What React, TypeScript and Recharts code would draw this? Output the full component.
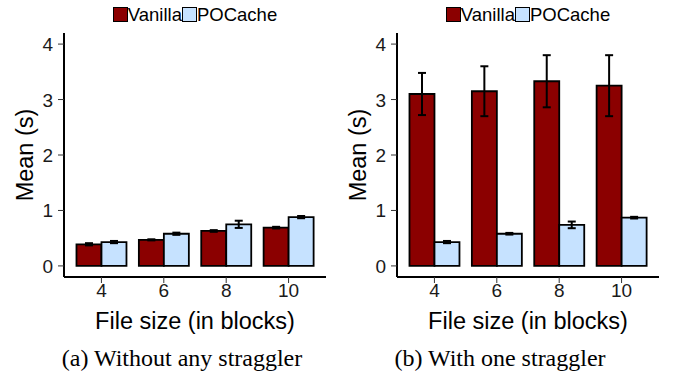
import React from 'react';
import { BarChart, Bar, XAxis, YAxis, ErrorBar } from 'recharts';

const categories = ['4', '6', '8', '10'];
const vanillaNoStraggler = [0.39, 0.47, 0.63, 0.69];
const vanillaNoStragglerErr = [0.02, 0.01, 0.015, 0.015];
const pocacheNoStraggler = [0.43, 0.58, 0.75, 0.88];
const pocacheNoStragglerErr = [0.02, 0.02, 0.065, 0.02];
const vanillaOneStraggler = [3.1, 3.15, 3.33, 3.25];
const vanillaOneStragglerErr = [0.38, 0.45, 0.47, 0.55];
const pocacheOneStraggler = [0.43, 0.58, 0.74, 0.87];
const pocacheOneStragglerErr = [0.02, 0.015, 0.06, 0.015];
const yTicks = [0, 1, 2, 3, 4];
const yDomain: [number, number] = [-0.2, 4.2];
const seriesNames = ['Vanilla', 'POCache'];
const seriesColors = ['#8B0000', '#C6E2FF'];
const captions = ['(a) Without any straggler', '(b) With one straggler'];
const yTitle = 'Mean (s)';
const xTitle = 'File size (in blocks)';

const SANS = "'Liberation Sans', Arial, Helvetica, sans-serif";
const SERIF = "'Liberation Serif', 'Times New Roman', serif";
const TICK_SIZE = 19;

function buildData(v: number[], ve: number[], p: number[], pe: number[]) {
  return categories.map((c, i) => ({
    cat: c,
    vanilla: v[i],
    vanillaErr: ve[i],
    pocache: p[i],
    pocacheErr: pe[i],
  }));
}

const dataA = buildData(vanillaNoStraggler, vanillaNoStragglerErr, pocacheNoStraggler, pocacheNoStragglerErr);
const dataB = buildData(vanillaOneStraggler, vanillaOneStragglerErr, pocacheOneStraggler, pocacheOneStragglerErr);

const XTick = (props: any) => {
  const { x, y, payload } = props;
  return (
    <text x={x} y={y + 14} textAnchor="middle" fontFamily={SANS} fontSize={TICK_SIZE} fill="#1a1a1a">
      {payload.value}
    </text>
  );
};

const YTick = (props: any) => {
  const { x, y, payload } = props;
  return (
    <text x={x} y={y + 7} textAnchor="end" fontFamily={SANS} fontSize={TICK_SIZE} fill="#1a1a1a">
      {payload.value}
    </text>
  );
};

const YTitle = (props: any) => {
  const vb = props.viewBox || { x: 0, y: 0, width: 0, height: 0 };
  const cx = vb.x + 11;
  const cy = vb.y + vb.height / 2;
  return (
    <text
      x={cx}
      y={cy}
      transform={`rotate(-90 ${cx} ${cy})`}
      textAnchor="middle"
      dominantBaseline="central"
      fontFamily={SANS}
      fontSize={23.5}
      fill="#000"
    >
      {yTitle}
    </text>
  );
};

const XTitle = (props: any) => {
  const vb = props.viewBox || { x: 0, y: 0, width: 0, height: 0 };
  return (
    <text
      x={vb.x + vb.width / 2}
      y={vb.y + 52}
      textAnchor="middle"
      fontFamily={SANS}
      fontSize={23.5}
      fill="#000"
    >
      {xTitle}
    </text>
  );
};

function LegendRow() {
  return (
    <div
      style={{
        position: 'absolute',
        left: 64,
        width: 262,
        top: 4,
        height: 21,
        display: 'flex',
        justifyContent: 'center',
        alignItems: 'center',
        fontFamily: SANS,
        fontSize: 18.5,
        lineHeight: '21px',
        color: '#000',
      }}
    >
      {seriesNames.map((name, i) => (
        <React.Fragment key={name}>
          <span
            style={{
              display: 'inline-block',
              width: 15,
              height: 15,
              boxSizing: 'border-box',
              border: '1.5px solid #000',
              background: seriesColors[i],
            }}
          />
          <span>{name}</span>
        </React.Fragment>
      ))}
    </div>
  );
}

function Panel({ data, left, caption, captionCenter }: any) {
  return (
    <div style={{ position: 'absolute', left, top: 0, width: 340, height: 379 }}>
      <LegendRow />
      <BarChart
        width={340}
        height={340}
        data={data}
        margin={{ top: 33, right: 14, bottom: 0, left: 14 }}
        barCategoryGap="10%"
        barGap={0}
      >
        <XAxis
          dataKey="cat"
          padding={{ left: 6.24, right: 6.24 }}
          tickSize={6}
          tickMargin={0}
          height={63}
          tick={<XTick />}
          tickLine={{ stroke: '#333', strokeWidth: 1 }}
          axisLine={{ stroke: '#000', strokeWidth: 2 }}
          label={<XTitle />}
        />
        <XAxis
          xAxisId="top"
          dataKey="cat"
          orientation="top"
          height={0}
          tick={false}
          tickLine={false}
          axisLine={{ stroke: '#333', strokeWidth: 1 }}
        />
        <YAxis
          domain={yDomain}
          ticks={yTicks}
          allowDataOverflow
          width={50}
          tickSize={6}
          tickMargin={5}
          tick={<YTick />}
          tickLine={{ stroke: '#333', strokeWidth: 1 }}
          axisLine={{ stroke: '#000', strokeWidth: 2 }}
          label={<YTitle />}
        />
        <YAxis
          yAxisId="right"
          orientation="right"
          domain={yDomain}
          width={0}
          tick={false}
          tickLine={false}
          axisLine={{ stroke: '#333', strokeWidth: 1 }}
        />
        <Bar dataKey="vanilla" fill={seriesColors[0]} stroke="#000" strokeWidth={1.8} isAnimationActive={false}>
          <ErrorBar dataKey="vanillaErr" width={4} strokeWidth={2} stroke="#000" direction="y" />
        </Bar>
        <Bar dataKey="pocache" fill={seriesColors[1]} stroke="#000" strokeWidth={1.8} isAnimationActive={false}>
          <ErrorBar dataKey="pocacheErr" width={4} strokeWidth={2} stroke="#000" direction="y" />
        </Bar>
      </BarChart>
      <div
        style={{
          position: 'absolute',
          left: captionCenter - 150,
          width: 300,
          top: 345,
          textAlign: 'center',
          fontFamily: SERIF,
          fontSize: 24,
          lineHeight: '26px',
          color: '#000',
          whiteSpace: 'nowrap',
        }}
      >
        {caption}
      </div>
    </div>
  );
}

export default function App() {
  return (
    <div
      style={{
        position: 'absolute',
        left: 0,
        top: 0,
        width: 673,
        height: 379,
        background: '#fff',
        overflow: 'hidden',
      }}
    >
      <Panel data={dataA} left={0} caption={captions[0]} captionCenter={182} />
      <Panel data={dataB} left={333} caption={captions[1]} captionCenter={167} />
    </div>
  );
}
